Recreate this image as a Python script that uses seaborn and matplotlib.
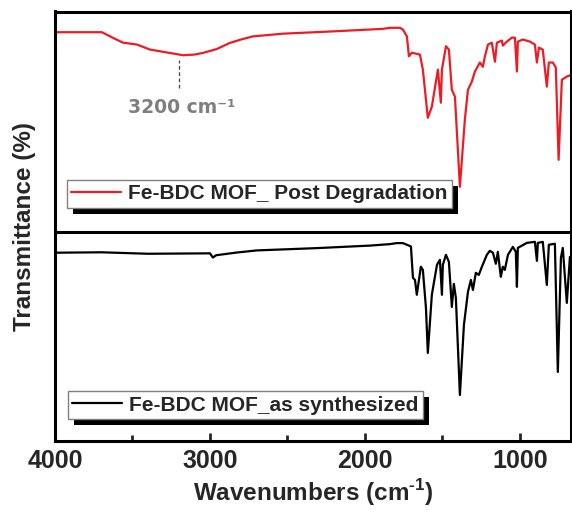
import numpy as np
import pandas as pd
import matplotlib
matplotlib.use("Agg")
import matplotlib.pyplot as plt
import seaborn as sns
from matplotlib.lines import Line2D
from matplotlib.patches import Rectangle
from matplotlib.ticker import MultipleLocator
from matplotlib.transforms import IdentityTransform

sns.set_theme(style="white")
plt.rcParams["font.family"] = ["Liberation Sans", "DejaVu Sans"]
plt.rcParams["mathtext.fontset"] = "custom"
plt.rcParams["mathtext.rm"] = "Liberation Sans:bold"
plt.rcParams["mathtext.bf"] = "Liberation Sans:bold"

# FTIR spectra (wavenumber in cm^-1, transmittance in arbitrary % units)
label_post = "Fe-BDC MOF_ Post Degradation"
label_synth = "Fe-BDC MOF_as synthesized"

wn_post = [4000, 3697, 3626, 3561, 3471, 3387, 3174, 3100, 3045, 2955, 2871, 2800,
           2723, 2529, 2206, 1884, 1839, 1774, 1755, 1729, 1716, 1697, 1645, 1626,
           1594, 1568, 1529, 1510, 1503, 1477, 1458, 1439, 1419, 1387, 1355, 1335,
           1310, 1290, 1258, 1239, 1226, 1206, 1181, 1161, 1148, 1116, 1110, 1084,
           1052, 1032, 1019, 1013, 981, 935, 903, 890, 877, 852, 826, 813, 787, 768,
           750, 729, 697, 665]
t_post = [95.4, 95.4, 92.7, 90.4, 89.5, 87.1, 84.4, 84.7, 85.5, 87.4, 90.3, 91.9,
          93.4, 94.7, 95.8, 97.0, 97.5, 97.5, 96.7, 93.4, 83.9, 85.6, 84.7, 77.5,
          54.5, 59.8, 77.5, 61.7, 77.5, 88.7, 87.1, 67.9, 64.6, 21.5, 53.6, 67.9,
          71.8, 76.6, 80.9, 78.9, 83.7, 89.5, 90.4, 81.3, 90.4, 91.4, 89.0, 90.9,
          92.8, 92.8, 76.6, 90.9, 91.9, 90.9, 89.5, 80.9, 88.0, 87.1, 69.4, 80.9,
          80.9, 78.5, 34.4, 72.7, 74.2, 75.1]

wn_synth = [4000, 3700, 3400, 3000, 2981, 2960, 2826, 2697, 2310, 1968, 1839, 1794,
            1755, 1703, 1690, 1677, 1665, 1639, 1626, 1606, 1594, 1568, 1535, 1516,
            1503, 1497, 1477, 1458, 1439, 1426, 1413, 1387, 1361, 1335, 1316, 1303,
            1284, 1265, 1245, 1213, 1194, 1174, 1155, 1142, 1123, 1110, 1097, 1077,
            1045, 1026, 1019, 1013, 955, 903, 890, 884, 852, 826, 813, 774, 755,
            735, 723, 697, 677, 665]
t_synth = [90.0, 90.2, 89.5, 89.7, 87.7, 88.8, 90.1, 91.1, 92.2, 93.4, 94.1, 94.6,
           94.6, 93.0, 78.0, 77.0, 69.9, 83.3, 81.8, 63.6, 42.1, 69.9, 84.2, 86.6,
           69.9, 84.2, 89.0, 85.6, 64.1, 75.1, 68.4, 22.0, 55.5, 71.3, 77.0, 72.2,
           80.4, 79.4, 83.3, 89.0, 90.9, 90.0, 84.7, 90.4, 78.5, 83.3, 81.8, 89.0,
           92.8, 90.4, 73.7, 92.3, 94.7, 95.2, 86.1, 94.7, 95.2, 74.6, 93.8, 94.3,
           33.0, 87.6, 92.3, 66.0, 88.0, 88.0]

# vertical offset of the stacked upper spectrum
offset_post = 100.0
peak_label = "3200 cm\u207b\u00b9"
peak_wn = 3200

red = "#ED1C24"
black = "#000000"

df_post = pd.DataFrame({"wn": wn_post, "T": np.array(t_post) + offset_post})
df_synth = pd.DataFrame({"wn": wn_synth, "T": t_synth})

fig = plt.figure(figsize=(5.72, 5.15), dpi=100)
ax = fig.add_axes([55 / 572, 1 - 441 / 515, 516 / 572, 429.5 / 515])

sns.lineplot(data=df_post, x="wn", y="T", ax=ax, color=red, lw=1.6,
             sort=False, estimator=None)
sns.lineplot(data=df_synth, x="wn", y="T", ax=ax, color=black, lw=1.6,
             sort=False, estimator=None)

ax.axhline(offset_post, color="black", lw=2.2, zorder=3)

ax.set_xlim(4000, 670)
ax.set_ylim(0, 205.3)
ax.xaxis.set_major_locator(MultipleLocator(1000))
ax.xaxis.set_minor_locator(MultipleLocator(500))
ax.set_yticks([])
ax.tick_params(axis="x", which="major", direction="in", length=6, width=2,
               bottom=True, top=False, pad=6)
ax.tick_params(axis="x", which="minor", direction="in", length=4, width=2,
               bottom=True, top=False)
for lbl in ax.get_xticklabels():
    lbl.set_fontsize(18)
    lbl.set_fontweight("bold")

for sp in ax.spines.values():
    sp.set_linewidth(2.2)
    sp.set_color("black")
    sp.set_visible(True)

ax.set_xlabel("Wavenumbers (cm$^{\\text{-1}}$)", fontsize=17.5,
              fontweight="bold", labelpad=3)
ax.set_ylabel("Transmittance (%)", fontsize=17.5, fontweight="bold", labelpad=14)

# peak marker on the broad O-H band
ax.plot([peak_wn, peak_wn], [168.9, 182.3], color="#444444", lw=0.9,
        ls=(0, (3, 2)))
ax.text(3529, 156.9, peak_label, color="#7F7F7F", fontsize=13.5,
        fontweight="bold", family="DejaVu Sans", va="baseline", ha="left")

legend_kw = dict(frameon=True, fancybox=False, framealpha=1,
                 edgecolor="#808080", borderpad=0.22, handlelength=2.4,
                 handletextpad=0.3, borderaxespad=0, loc="upper left")
prop = {"weight": "bold", "size": 15}

leg1 = ax.legend(handles=[Line2D([], [], color=red, lw=1.6)], labels=[label_post],
                 bbox_to_anchor=(0.023, 0.608), prop=prop, **legend_kw)
leg1.get_frame().set_linewidth(1.0)
ax.add_artist(leg1)
leg2 = ax.legend(handles=[Line2D([], [], color=black, lw=1.6)], labels=[label_synth],
                 bbox_to_anchor=(0.025, 0.116), prop=prop, **legend_kw)
leg2.get_frame().set_linewidth(1.0)

# solid drop shadows behind the legend boxes
fig.canvas.draw()
renderer = fig.canvas.get_renderer()
for leg in (leg1, leg2):
    bb = leg.get_frame().get_window_extent(renderer)
    shadow = Rectangle((bb.x0 + 6, bb.y0 - 6), bb.width, bb.height,
                       transform=IdentityTransform(), facecolor="black",
                       edgecolor="none", zorder=4.9, clip_on=False)
    ax.add_artist(shadow)

fig.savefig("out.png", dpi=100)
